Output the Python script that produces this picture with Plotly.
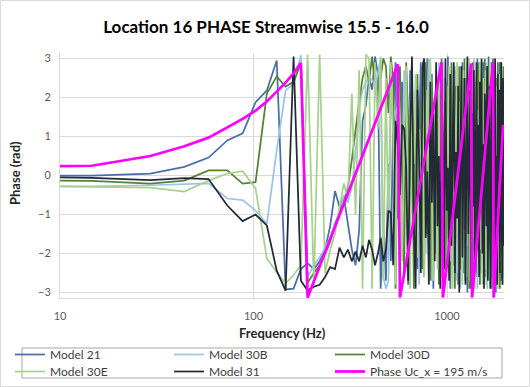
import plotly.graph_objects as go

# ---------------- data ----------------
freq_hz = [10, 14.6, 29.3, 43.9, 58.6, 73.2, 87.9, 102.5, 117.2, 131.8,
           146.5, 161.1, 175.8, 190.4, 205.1, 219.7, 234.4, 249.0, 263.7, 278.3,
           293.0, 307.6, 322.3, 336.9, 351.6, 366.2, 380.9, 395.5, 410.2, 424.8,
           439.5, 454.1, 468.8, 483.4, 498.1, 512.7, 527.4, 542.0, 556.7, 571.3,
           586.0, 600.6, 615.3, 629.9, 644.6, 659.2, 673.9, 688.5, 703.2, 717.8,
           732.5, 747.1, 761.8, 776.4, 791.1, 805.7, 820.4, 835.0, 849.7, 864.3,
           879.0, 893.6, 908.3, 922.9, 937.6, 952.2, 966.9, 981.5, 996.2, 1010.8,
           1025.5, 1040.1, 1054.8, 1069.4, 1084.1, 1098.7, 1113.4, 1128.0, 1142.7, 1157.3,
           1172.0, 1186.6, 1201.3, 1215.9, 1230.6, 1245.2, 1259.9, 1274.5, 1289.2, 1303.8,
           1318.5, 1333.1, 1347.8, 1362.4, 1377.1, 1391.7, 1406.4, 1421.0, 1435.7, 1450.3,
           1465.0, 1479.6, 1494.3, 1508.9, 1523.6, 1538.2, 1552.9, 1567.5, 1582.2, 1596.8,
           1611.5, 1626.1, 1640.8, 1655.4, 1670.1, 1684.7, 1699.4, 1714.0, 1728.7, 1743.3,
           1758.0, 1772.6, 1787.3, 1801.9, 1816.6, 1831.2, 1845.9, 1860.5, 1875.2, 1889.8,
           1904.5, 1919.1, 1933.8, 1948.4, 1963.1, 1977.7, 1992.4]

model_21 = [0.0, 0.0, 0.05, 0.22, 0.46, 0.9, 1.08, 1.88, 2.18, 2.95,
            -2.92, -2.9, -2.4, -2.25, -2.4, -2.2, -1.9, -1.3, -0.4, -0.8,
            -0.55, -1.2, -1.9, -2.3, -1.4, 1.4, 1.8, 2.5, 2.2, 3.05,
            2.6, -2.9, -1.2, -2.7, 0.3, -2.2, 1.6, 2.9, -1.1, 0.7,
            2.4, -0.6, 1.9, -2.8, 2.7, 0.4, -1.7, 2.2, -2.4, 1.1,
            2.9, -0.9, -2.6, 1.5, 3.0, -1.9, 0.6, 2.6, -2.9, -0.2,
            2.1, -2.2, 1.3, 2.8, -1.0, -2.7, 0.9, 2.4, -1.6, 3.05,
            -0.5, -2.9, 1.8, 0.2, -2.3, 2.7, -1.2, 1.0, -2.8, 2.3,
            0.1, -1.8, 2.9, -2.5, 1.6, -0.7, 2.5, -3.0, 0.8, 1.9,
            -2.1, 2.8, -1.4, 0.5, -2.9, 2.2, 1.2, -2.6, 3.0, -0.8,
            1.7, -2.4, 2.6, -1.1, 0.3, 2.9, -2.8, 1.4, -0.4, 2.7,
            -2.2, 0.9, 3.05, -1.7, -2.9, 1.8, 0.0, 2.5, -2.6, 1.2,
            2.8, -1.5, -3.0, 0.7, 2.3, -0.9, 1.9, -2.5, 2.9, -0.3,
            -2.7, 1.5, 2.6, -1.9, 0.4, 2.2, -2.4]

model_30b = [-0.28, -0.28, -0.25, -0.22, -0.2, -0.59, -0.63, -0.9, -1.24, 0.64,
             2.18, 2.35, 3.08, -2.6, -2.3, -2.1, -1.85, -1.6, -1.2, -1.0,
             -0.5, -0.7, -0.3, 0.6, 1.7, 2.2, 2.4, 2.5, 2.45, 2.3,
             2.6, 3.0, -2.6, -2.9, -2.7, 1.9, 1.3, 1.6, 1.8, -2.2,
             -1.0, 2.7, 0.5, -2.4, 1.4, 2.9, -1.7, 0.2, 2.3, -2.8,
             1.0, -0.6, 2.6, -2.0, 1.7, 3.0, -1.3, -2.7, 0.8, 2.2,
             -1.9, 0.4, 2.9, -2.6, 1.2, -0.3, 2.5, -2.9, 1.8, -1.0,
             2.7, 0.6, -2.3, 1.5, -0.8, 2.8, -2.7, 0.9, 2.1, -1.6,
             -2.9, 1.7, 0.2, 2.6, -2.2, 1.1, -0.5, 2.9, -1.8, 0.5,
             2.4, -2.6, 1.3, -1.2, 3.0, -2.4, 0.7, 1.9, -2.9, 2.2,
             -0.9, 1.6, -2.5, 2.7, 0.3, -1.7, 2.4, -2.8, 1.0, 2.9,
             -1.4, 0.6, -2.6, 2.3, 1.4, -2.0, 2.8, -0.7, -2.9, 1.8,
             0.4, 2.6, -2.3, 1.2, -1.1, 2.9, -2.7, 0.8, 2.1, -1.9,
             2.7, -2.4, 0.9, -1.5, 2.5, -2.8, 1.3]

model_30d = [-0.13, -0.14, -0.21, -0.13, 0.13, 0.13, -0.21, -0.17, 2.1, 2.54,
             2.28, 2.4, 2.87, -2.75, -2.5, -2.3, -2.0, -1.7, -1.3, -0.9,
             -0.7, -0.3, 0.4, 1.2, 1.9, 2.5, 2.8, 2.4, 3.05, 2.3,
             2.2, 2.5, 3.0, 2.8, 1.6, 3.05, 2.4, -2.9, 1.2, 2.8,
             -0.4, -2.6, 2.9, 1.5, -1.1, 2.2, -2.9, 0.7, 2.6, -0.9,
             1.8, -2.4, 0.3, 2.9, -1.5, 1.1, -2.7, 2.4, 0.0, -2.0,
             2.7, 1.4, -2.8, 0.6, 3.0, -1.2, 1.9, -2.5, 0.3, 2.2,
             1.2, -2.6, 2.9, -0.9, 1.6, -2.9, 2.3, 0.5, -1.8, 2.8,
             -2.4, 0.9, 2.5, -1.4, 3.0, -2.7, 1.3, -0.2, 2.6, -2.9,
             0.8, 2.3, -1.7, 2.9, -0.6, 1.5, -2.5, 0.2, 2.7, -1.3,
             2.9, -2.8, 1.1, -0.7, 2.4, -2.3, 1.7, 3.0, -1.0, -2.6,
             1.6, 2.8, -1.9, 0.5, 2.6, -2.4, 0.9, -1.5, 3.0, -2.7,
             1.9, -0.8, 2.5, -2.6, 0.6, 2.9, -1.6, 1.4, -2.9, 2.3,
             -0.5, 1.7, -2.5, 2.8, -1.2, 0.8, 2.4]

model_30e = [-0.28, -0.29, -0.31, -0.41, -0.13, 0.05, 0.11, -0.33, -2.13, -2.48,
             -2.77, -2.55, -2.3, 3.1, -2.8, 3.1, -2.5, -1.9, -1.5, -0.8,
             -0.2, -0.6, 2.1, -1.0, 2.7, -2.9, 3.1, 3.0, -2.9, 2.9,
             1.2, 3.05, -2.7, 2.5, -1.5, 2.9, 1.0, -2.8, 2.7, 1.5,
             -2.2, 0.8, 2.8, -1.4, -2.9, 1.9, 0.3, 2.6, -2.1, 1.2,
             -0.7, 2.9, -2.6, 0.9, 2.2, -1.8, 3.0, -0.3, -2.7, 1.6,
             0.5, -2.4, 2.6, -1.1, 1.8, 2.9, -2.8, 0.0, 2.3, -1.9,
             2.8, -2.2, 0.7, -2.9, 2.5, 1.3, -1.5, 2.9, -2.5, 0.4,
             1.9, -1.0, -2.8, 2.7, 0.2, 1.6, -2.6, 2.3, -0.8, 3.0,
             -2.7, 1.1, 2.8, -1.6, 0.6, -2.9, 2.4, -0.4, 1.7, -2.3,
             0.9, 2.9, -1.9, 1.3, -2.8, 2.5, -0.1, -2.4, 2.7, 0.6,
             -2.9, 2.2, 1.0, -1.3, 2.9, 0.3, -2.6, 1.6, 2.4, -0.9,
             -2.5, 2.8, 0.7, -1.8, 2.3, -2.9, 1.2, 2.6, -0.6, -2.2,
             1.9, 2.9, -1.1, -2.6, 2.1, 0.9, -2.9]

model_31 = [-0.05, -0.06, -0.12, -0.07, -0.09, -0.77, -1.17, -1.0, -1.28, -2.44,
            -2.95, 3.05, -2.7, -2.95, -2.85, -2.8, -2.6, -2.35, -2.4, -1.85,
            -2.1, -1.9, -2.2, -1.95, -2.2, -1.8, -2.1, -1.65, -1.9, -2.3,
            -2.0, -1.6, -2.2, -1.9, -0.9, -0.95, -2.3, 1.4, 0.8, -0.5,
            1.3, 1.2, 0.2, -2.7, 0.9, 3.05, -1.2, -2.9, 2.2, 0.4,
            -2.5, 2.8, 3.0, -1.6, 0.1, -2.8, 2.4, -0.7, 1.6, -2.2,
            2.9, -1.3, 0.5, -2.9, 2.1, 1.0, -2.4, 3.0, -0.9, 0.2,
            -2.7, 2.6, -1.8, 1.4, 2.9, -2.5, 0.6, -1.1, 2.3, -3.0,
            1.1, 2.8, -2.1, -0.4, 2.5, -2.8, 0.9, 3.05, -1.5, 0.3,
            2.2, -2.9, 1.6, -0.8, 2.7, -2.3, 0.0, 2.9, -1.9, 1.3,
            -2.6, 2.4, -0.5, 3.0, -2.0, 0.8, -2.9, 2.1, 1.5, -1.3,
            2.8, -2.7, 0.4, 2.3, -1.6, -2.9, 1.9, 2.9, -0.6, -2.4,
            1.2, 3.0, -1.9, 0.5, -2.8, 2.6, -0.2, 2.2, -2.5, 1.0,
            2.9, -1.4, -2.8, 2.5, 0.6, -1.8, 2.7]

phase_freq_hz = [10, 14.6, 29.3, 43.9, 58.6, 73.2, 87.9, 102.5, 117.2, 131.8,
                 146.5, 161.1, 175.8, 190.4, 556.7, 571.3, 937.6, 952.2,
                 1333.1, 1347.8, 1728.7, 1743.3, 1948.4]
phase_uc195 = [0.24, 0.25, 0.5, 0.75, 0.97, 1.23, 1.45, 1.66, 1.9, 2.15,
               2.38, 2.62, 2.88, -3.13, 2.85, -3.13, 2.9, -3.13,
               2.87, -3.13, 2.9, -3.13, 1.3]

series_names = ["Model 21", "Model 30B", "Model 30D", "Model 30E", "Model 31",
                "Phase Uc_x = 195 m/s"]
series_colors = ["#4a6ea8", "#9dc3e6", "#548235", "#a9d18e", "#222a35", "#ff00ff"]

for v in [model_21, model_30b, model_30d, model_30e, model_31]:
    assert len(v) == len(freq_hz), len(v)
assert len(phase_freq_hz) == len(phase_uc195)

x_ticks = [10, 100, 1000]
x_ticktext = ["10", "100", "1000"]
y_ticks = [-3, -2, -1, 0, 1, 2, 3]

FONT = "Lato, Open Sans, sans-serif"

# one single-entry legend per item -> 3 columns x 2 rows like the Excel legend
legend_ids = ["legend", "legend2", "legend3", "legend4", "legend5", "legend6"]

fig = go.Figure()
series_x = [freq_hz] * 5 + [phase_freq_hz]
series_y = [model_21, model_30b, model_30d, model_30e, model_31, phase_uc195]
for i, (name, xs, ys, col) in enumerate(zip(series_names, series_x, series_y, series_colors)):
    fig.add_trace(go.Scatter(x=xs, y=ys, mode="lines", name=name,
                             legend=legend_ids[i],
                             line=dict(color=col, width=2.75 if i == 5 else 1.75)))

W, H = 530, 387
L, R, T, B = 60, 26, 53, 89
pw, ph = W - L - R, H - T - B


def px(p):
    return (p - L) / pw


def py(q):
    return (H - B - q) / ph


def legend_at(xpix, toppix):
    return dict(orientation="v", xref="container", yref="container",
                x=xpix / W, y=1 - toppix / H, xanchor="left", yanchor="top",
                font=dict(family=FONT, size=12, color="#404040"),
                bgcolor="rgba(0,0,0,0)", borderwidth=0, itemwidth=30,
                tracegroupgap=0)


col_x = [10, 169, 330]
row_top = [340, 357]
legend_layout = {}
for i, lid in enumerate(legend_ids):
    legend_layout[lid] = legend_at(col_x[i % 3], row_top[i // 3])

fig.update_layout(
    width=W, height=H,
    margin=dict(l=L, r=R, t=T, b=B, autoexpand=False),
    paper_bgcolor="white", plot_bgcolor="white",
    font=dict(family=FONT, color="#595959"),
    title=dict(text="<b>Location 16 PHASE Streamwise 15.5 - 16.0</b>",
               font=dict(family=FONT, size=17, color="#000000"),
               x=266 / W, xref="container", xanchor="center",
               y=1 - 27 / H, yref="container", yanchor="middle"),
    xaxis=dict(type="log", range=[1, 3.2946], tickvals=x_ticks, ticktext=x_ticktext,
               showgrid=True, gridcolor="#d9d9d9", gridwidth=1,
               showline=True, linecolor="#d9d9d9", linewidth=1,
               zeroline=False, ticks="", ticklabelstandoff=8, automargin=False,
               tickfont=dict(family=FONT, size=11, color="#595959")),
    yaxis=dict(range=[-3.14, 3.14], tickvals=y_ticks,
               showgrid=True, gridcolor="#d9d9d9", gridwidth=1,
               showline=True, linecolor="#d9d9d9", linewidth=1,
               zeroline=False, ticks="", ticklabelstandoff=6, automargin=False,
               tickfont=dict(family=FONT, size=11, color="#595959")),
    showlegend=True,
    annotations=[
        dict(text="<b>Phase (rad)</b>", xref="paper", yref="paper",
             x=px(15), y=py(173), textangle=-90, showarrow=False,
             xanchor="center", yanchor="middle",
             font=dict(family=FONT, size=13, color="#262626")),
        dict(text="<b>Frequency (Hz)</b>", xref="paper", yref="paper",
             x=px(282), y=py(333), showarrow=False,
             xanchor="center", yanchor="middle",
             font=dict(family=FONT, size=13, color="#262626")),
    ],
    shapes=[
        dict(type="rect", xref="paper", yref="paper",
             x0=px(22), x1=px(502), y0=py(348), y1=py(378),
             line=dict(color="#a6a6a6", width=1), fillcolor="rgba(0,0,0,0)"),
        dict(type="rect", xref="paper", yref="paper",
             x0=px(0.5), x1=px(529.5), y0=py(0.5), y1=py(386.5),
             line=dict(color="#d9d9d9", width=1), fillcolor="rgba(0,0,0,0)"),
    ],
    **legend_layout,
)

fig.write_html("out.html", config={"displayModeBar": False},
               post_script="document.body.style.margin='0';document.body.style.padding='0';")
